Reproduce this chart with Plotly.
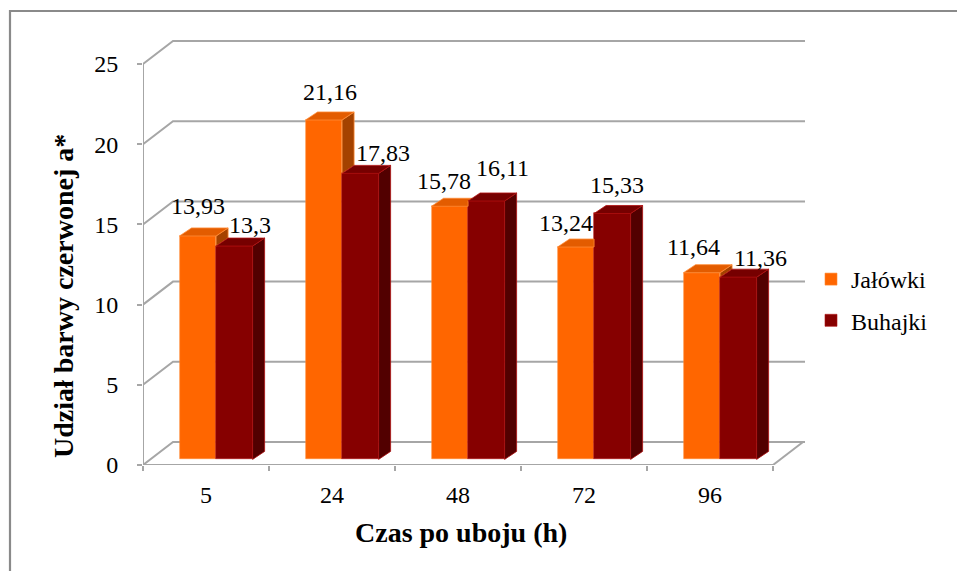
import plotly.graph_objects as go

# Udział barwy czerwonej a* w mięsie w kolejnych godzinach po uboju
czas = ["5", "24", "48", "72", "96"]
jalowki = [13.93, 21.16, 15.78, 13.24, 11.64]
buhajki = [13.30, 17.83, 16.11, 15.33, 11.36]
y_ticks = [0, 5, 10, 15, 20, 25]
series_names = ["Jałówki", "Buhajki"]

# label nudges in pixels: (right, up from the front top edge)
nudge_jal = [(0, 30), (6, 28), (-6, 25), (-10, 24), (-8, 26)]
nudge_buh = [(16, 21), (23, 20), (16, 33), (5, 28), (22, 19)]

# ---- page geometry -------------------------------------------------------
W, H = 957, 571
PL, PR, PB, PT = 143, 805, 465, 30      # plot area edges in pixels
CAT = 126.0                             # pixels per category slot
VAL = 16.04                             # pixels per unit of a*
X_MAX = (PR - PL) / CAT
Y_MAX = (PB - PT) / VAL

WALL_DX, WALL_DY = 30 / CAT, 23 / VAL   # depth of the back wall
BAR_DX, BAR_DY = 12 / CAT, 8 / VAL      # depth of each column
BAR_L, BAR_W = 0.29, 0.29               # column position inside a slot
BASE = 0.35                             # columns stand slightly behind the front edge

FONT = "Liberation Serif"
FS = 24          # tick, value and legend text
FS_TITLE = 28    # axis titles
GRID = "#a6a6a6"

C_OR = dict(front="#ff6600", top="#e35c00", side="#a44200", edge="#ff8a33")
C_RD = dict(front="#860000", top="#760000", side="#520000", edge="#b01010")

n = len(czas)
x_or = [i + BAR_L + BAR_W / 2 for i in range(n)]
x_rd = [i + BAR_L + 1.5 * BAR_W for i in range(n)]


def fmt(v):
    s = f"{v:.2f}".rstrip("0").rstrip(".")
    return s.replace(".", ",")


def polys(list_of_pts):
    xs, ys = [], []
    for pts in list_of_pts:
        for px, py in pts + [pts[0]]:
            xs.append(px)
            ys.append(py)
        xs.append(None)
        ys.append(None)
    return xs, ys


def face_trace(list_of_pts, fill, edge):
    xs, ys = polys(list_of_pts)
    return go.Scatter(x=xs, y=ys, mode="lines", fill="toself", fillcolor=fill,
                      line=dict(color=edge, width=0.8), hoverinfo="skip",
                      showlegend=False)


fig = go.Figure()

# front faces of the columns
for name, xs, vals, c in [(series_names[0], x_or, jalowki, C_OR),
                          (series_names[1], x_rd, buhajki, C_RD)]:
    fig.add_trace(go.Bar(
        x=xs, y=vals, base=[BASE] * n, width=BAR_W, name=name,
        marker=dict(color=c["front"], line=dict(color=c["edge"], width=0.6)),
        legendgroup=name, hoverinfo="skip"))

# side and top faces (the orange column is partly hidden by the red one)
or_side, or_top, rd_side, rd_top = [], [], [], []
k = BAR_DY / BAR_DX
for i in range(n):
    to, tr = BASE + jalowki[i], BASE + buhajki[i]
    xl = i + BAR_L
    xm = xl + BAR_W
    xr = xm + BAR_W
    if to > tr:
        or_side.append([(xm, tr), (xm + BAR_DX, tr + BAR_DY),
                        (xm + BAR_DX, to + BAR_DY), (xm, to)])
    c = min(max(tr - to, 0), BAR_DY)
    if c > 0:
        or_top.append([(xl, to), (xm, to), (xm, to + c),
                       (xm + (BAR_DY - c) / k, to + BAR_DY), (xl + BAR_DX, to + BAR_DY)])
    else:
        or_top.append([(xl, to), (xm, to), (xm + BAR_DX, to + BAR_DY),
                       (xl + BAR_DX, to + BAR_DY)])
    rd_side.append([(xr, BASE), (xr + BAR_DX, BASE + BAR_DY),
                    (xr + BAR_DX, tr + BAR_DY), (xr, tr)])
    rd_top.append([(xm, tr), (xr, tr), (xr + BAR_DX, tr + BAR_DY),
                   (xm + BAR_DX, tr + BAR_DY)])

fig.add_trace(face_trace(or_side, C_OR["side"], C_OR["edge"]))
fig.add_trace(face_trace(or_top, C_OR["top"], C_OR["edge"]))
fig.add_trace(face_trace(rd_side, C_RD["side"], C_RD["edge"]))
fig.add_trace(face_trace(rd_top, C_RD["top"], C_RD["edge"]))

# back wall gridlines, floor and front axes
shapes = []
for v in y_ticks:
    shapes.append(dict(type="path", xref="x", yref="y", layer="below",
                       path=f"M 0,{v} L {WALL_DX},{v + WALL_DY} L {X_MAX},{v + WALL_DY}",
                       line=dict(color=GRID, width=2)))
shapes.append(dict(type="path", xref="x", yref="y", layer="below",
                   path=f"M {n},0 L {n + WALL_DX},{WALL_DY}",
                   line=dict(color=GRID, width=2)))
shapes.append(dict(type="line", xref="x", yref="y", layer="below",
                   x0=0, y0=0, x1=n, y1=0, line=dict(color=GRID, width=2)))
shapes.append(dict(type="line", xref="x", yref="y", layer="below",
                   x0=0, y0=0, x1=0, y1=y_ticks[-1], line=dict(color=GRID, width=2)))
# chart frame
shapes.append(dict(type="rect", xref="paper", yref="paper", layer="below",
                   x0=(10 - PL) / (PR - PL), y0=-1.0,
                   x1=2.0, y1=(PB - 11) / (PB - PT),
                   line=dict(color="#8a8a8a", width=2.2)))

# value labels
annotations = []
for xs, vals, nud in [(x_or, jalowki, nudge_jal), (x_rd, buhajki, nudge_buh)]:
    for i in range(n):
        annotations.append(dict(
            x=xs[i], y=BASE + vals[i], xref="x", yref="y", text=fmt(vals[i]),
            showarrow=False, xanchor="center", yanchor="middle",
            xshift=nud[i][0], yshift=nud[i][1],
            font=dict(family=FONT, size=FS, color="#000000")))

annotations.append(dict(
    x=(63 - PL) / (PR - PL), y=(PB - 296) / (PB - PT), xref="paper", yref="paper",
    text="<b>Udział barwy czerwonej a*</b>", textangle=-90, showarrow=False,
    xanchor="center", yanchor="middle",
    font=dict(family=FONT, size=FS_TITLE, color="#000000")))
annotations.append(dict(
    x=(461 - PL) / (PR - PL), y=(PB - 532) / (PB - PT), xref="paper", yref="paper",
    text="<b>Czas po uboju (h)</b>", showarrow=False,
    xanchor="center", yanchor="middle",
    font=dict(family=FONT, size=FS_TITLE, color="#000000")))

fig.update_layout(
    width=W, height=H,
    margin=dict(l=PL, r=W - PR, t=PT, b=H - PB, pad=0),
    paper_bgcolor="#ffffff", plot_bgcolor="rgba(0,0,0,0)",
    barmode="overlay", bargap=0,
    showlegend=True,
    legend=dict(x=(811 - PL) / (PR - PL), y=(PB - 300) / (PB - PT),
                xanchor="left", yanchor="middle",
                font=dict(family=FONT, size=FS, color="#000000"),
                traceorder="grouped", tracegroupgap=7,
                bgcolor="rgba(0,0,0,0)"),
    xaxis=dict(range=[0, X_MAX], showgrid=False, zeroline=False, showline=False,
               tickmode="array", tickvals=[i + 0.5 for i in range(n)], ticktext=czas,
               ticks="", ticklabelstandoff=13,
               tickfont=dict(family=FONT, size=FS, color="#000000"),
               minor=dict(tickmode="array", tickvals=list(range(n + 1)),
                          ticks="outside", ticklen=5, tickwidth=2, tickcolor=GRID,
                          showgrid=False)),
    yaxis=dict(range=[0, Y_MAX], showgrid=False, zeroline=False, showline=False,
               tickmode="array", tickvals=y_ticks, ticktext=[str(t) for t in y_ticks],
               ticks="outside", ticklen=5, tickwidth=2, tickcolor=GRID,
               ticklabelstandoff=14,
               tickfont=dict(family=FONT, size=FS, color="#000000")),
    shapes=shapes, annotations=annotations,
)

fig.write_html("out.html")
